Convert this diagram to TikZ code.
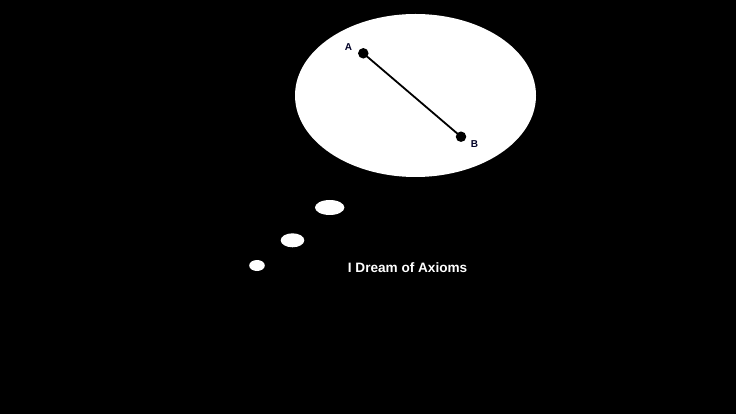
\documentclass[tikz,border=0pt]{standalone}
\usepackage{fontspec}
\setmainfont{Liberation Sans}
\begin{document}
\begin{tikzpicture}[x=1pt,y=-1pt,
  bubble/.style={fill=white,draw=none},
  dot/.style={circle,fill=black,inner sep=0pt,minimum size=10.5pt},
  lbl/.style={font=\fontsize{10}{12}\selectfont\bfseries,text=black!85!blue,inner sep=0pt},
  caption/.style={font=\fontsize{13.6}{16}\selectfont\bfseries,text=white,inner sep=0pt,anchor=west}]
\fill[black] (0,0) rectangle (736,414);
\useasboundingbox (0,0) rectangle (736,414);
\fill[bubble] (415.5,95.5) ellipse [x radius=120.5, y radius=81.5];
\fill[bubble] (329.7,207.5) ellipse [x radius=14.7, y radius=7.5];
\fill[bubble] (292.5,240.3) ellipse [x radius=11.8, y radius=7];
\fill[bubble] (257,265.5) ellipse [x radius=7.8, y radius=5.5];
\node[dot] (a) at (363.3,53.3) {};
\node[dot] (b) at (461,136.7) {};
\draw[line width=1.8pt] (a.center) -- (b.center);
\node[lbl] (la) at (348.5,47) {A};
\node[lbl] (lb) at (474.5,144) {B};
\node[caption] (cap) at (347.7,267.3) {I Dream of Axioms};
\end{tikzpicture}
\end{document}
